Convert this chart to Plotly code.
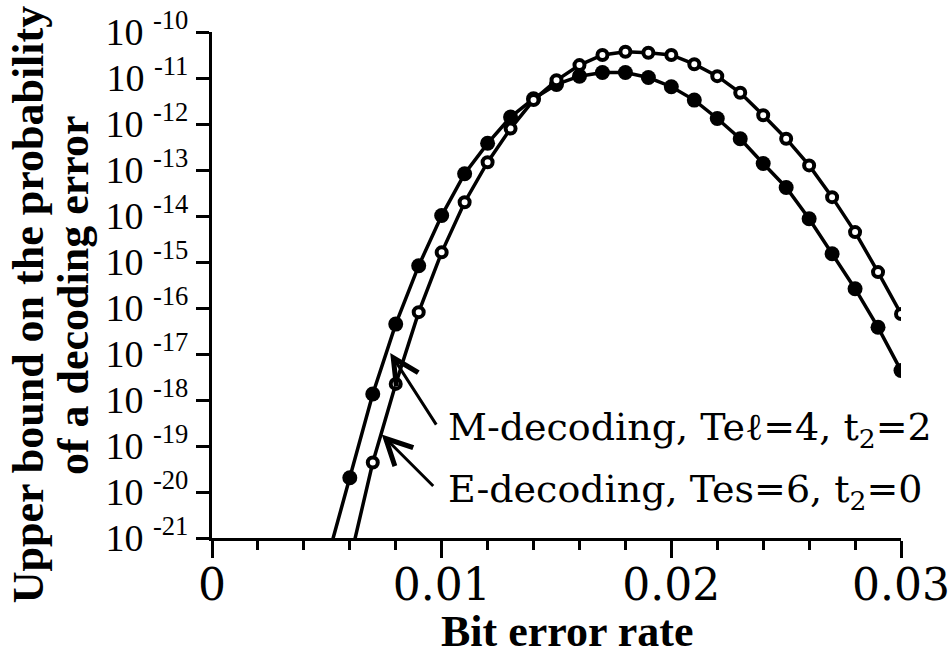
import numpy as np
import plotly.graph_objects as go

# Bit error rate grid (one point per 0.001)
ber_m = [0.005, 0.006, 0.007, 0.008, 0.009, 0.010, 0.011, 0.012, 0.013, 0.014,
         0.015, 0.016, 0.017, 0.018, 0.019, 0.020, 0.021, 0.022, 0.023, 0.024,
         0.025, 0.026, 0.027, 0.028, 0.029, 0.030]
ber_e = [0.006, 0.007, 0.008, 0.009, 0.010, 0.011, 0.012, 0.013, 0.014,
         0.015, 0.016, 0.017, 0.018, 0.019, 0.020, 0.021, 0.022, 0.023, 0.024,
         0.025, 0.026, 0.027, 0.028, 0.029, 0.030]

# log10 of the upper bound on the decoding-error probability
m_decoding_log10 = [-21.5, -19.69, -17.87, -16.35, -15.08, -13.99, -13.08, -12.42, -11.85, -11.45,
                    -11.14, -10.96, -10.88, -10.88, -10.99, -11.19, -11.48, -11.88, -12.32, -12.86,
                    -13.38, -14.06, -14.82, -15.58, -16.42, -17.36]
e_decoding_log10 = [-21.5, -19.36, -17.65, -16.09, -14.79, -13.70, -12.83, -12.10, -11.48,
                    -11.05, -10.72, -10.50, -10.43, -10.45, -10.50, -10.70, -10.96, -11.32, -11.81,
                    -12.32, -12.90, -13.59, -14.35, -15.22, -16.13]

y_exponents = list(range(-10, -22, -1))
y_tick_text = ["10 <sup>%d</sup>" % e for e in y_exponents]
x_tick_vals = [0, 0.01, 0.02, 0.03]
x_tick_text = ["0", "0.01", "0.02", "0.03"]

m_label = "M-decoding, Te\u2113=4, t<sub>2</sub>=2"
e_label = "E-decoding, Tes=6, t<sub>2</sub>=0"

SERIF = "DejaVu Serif"
BOOK = "Liberation Serif"

fig = go.Figure()

fig.add_trace(go.Scatter(
    x=ber_m, y=np.power(10.0, m_decoding_log10),
    mode="lines+markers",
    line=dict(color="black", width=3.5),
    marker=dict(symbol="circle", size=15, color="black", line=dict(width=0)),
    name="M-decoding", showlegend=False,
))
fig.add_trace(go.Scatter(
    x=ber_e, y=np.power(10.0, e_decoding_log10),
    mode="lines+markers",
    line=dict(color="black", width=3.5),
    marker=dict(symbol="circle", size=10, color="white",
                line=dict(width=4, color="black")),
    name="E-decoding", showlegend=False,
))

fig.update_xaxes(
    range=[0, 0.03], automargin=False,
    tickvals=x_tick_vals, ticktext=x_tick_text,
    ticks="outside", ticklen=17, tickwidth=3, tickcolor="black",
    minor=dict(dtick=0.002, tick0=0, ticks="outside", ticklen=9,
               tickwidth=3, tickcolor="black", showgrid=False),
    showline=True, linewidth=3, linecolor="black",
    showgrid=False, zeroline=False,
    tickfont=dict(family=SERIF, size=44, color="black"),
    ticklabeloverflow="allow", ticklabelstandoff=-11,
)
fig.update_yaxes(
    type="log", range=[-21, -10], automargin=False,
    tickvals=[10.0 ** e for e in y_exponents], ticktext=y_tick_text,
    ticks="outside", ticklen=13, tickwidth=3, tickcolor="black",
    showline=True, linewidth=3, linecolor="black",
    showgrid=False, zeroline=False,
    tickfont=dict(family=BOOK, size=38, color="black"),
)

# axis titles
fig.add_annotation(text="Bit error rate", xref="paper", yref="paper",
                   x=0.5156, y=0, yshift=-67, xanchor="center", yanchor="top",
                   showarrow=False,
                   font=dict(family=BOOK, size=44, color="black", weight="bold"))
fig.add_annotation(text="Upper bound on the probability", xref="paper", yref="paper",
                   x=0, xshift=-184, y=0.46, xanchor="center", yanchor="middle",
                   textangle=-90, showarrow=False,
                   font=dict(family=BOOK, size=44, color="black", weight="bold"))
fig.add_annotation(text="of a decoding error", xref="paper", yref="paper",
                   x=0, xshift=-139, y=0.48, xanchor="center", yanchor="middle",
                   textangle=-90, showarrow=False,
                   font=dict(family=BOOK, size=44, color="black", weight="bold"))

# curve labels and their arrows
fig.add_annotation(text=m_label, x=0.01018, y=-18.64, xref="x", yref="y",
                   xanchor="left", yanchor="middle", showarrow=False,
                   font=dict(family=SERIF, size=38, color="black"))
fig.add_annotation(text=e_label, x=0.01018, y=-19.99, xref="x", yref="y",
                   xanchor="left", yanchor="middle", showarrow=False,
                   font=dict(family=SERIF, size=38, color="black"))
fig.add_annotation(text="", x=0.00776, y=-16.98, xref="x", yref="y",
                   ax=47, ay=73, showarrow=True, arrowhead=5, arrowsize=1.7,
                   arrowwidth=3, arrowcolor="black", standoff=0)
fig.add_annotation(text="", x=0.00739, y=-18.75, xref="x", yref="y",
                   ax=53, ay=53, showarrow=True, arrowhead=5, arrowsize=1.7,
                   arrowwidth=3, arrowcolor="black", standoff=0)

fig.update_layout(
    width=951, height=656,
    margin=dict(l=212, r=50, t=32, b=118),
    paper_bgcolor="white", plot_bgcolor="white",
    showlegend=False,
)

fig.write_html("out.html")
